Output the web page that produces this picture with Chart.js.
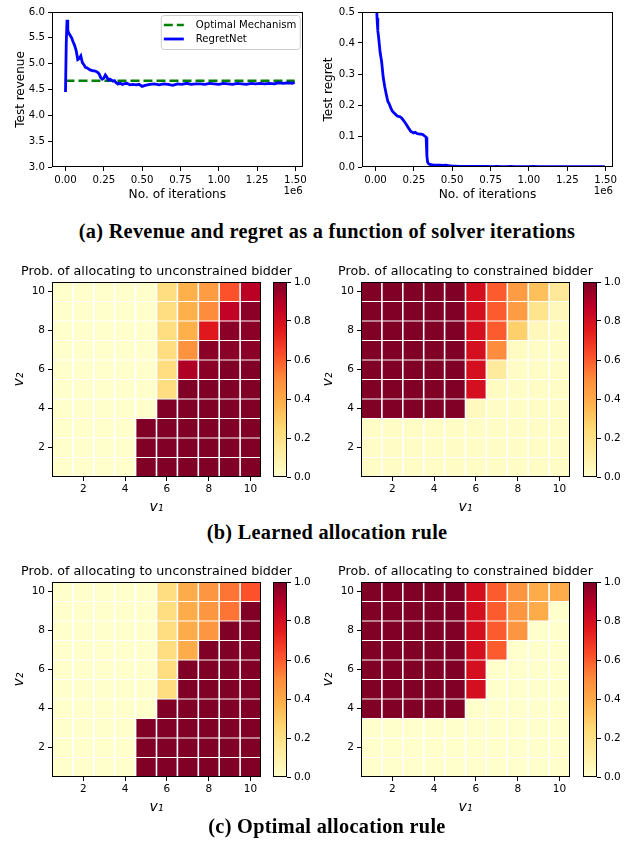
<!DOCTYPE html>
<html><head><meta charset="utf-8">
<script src="https://cdn.jsdelivr.net/npm/chart.js@4.4.1/dist/chart.umd.min.js"></script>
<style>
html,body{margin:0;padding:0;background:#fff;}
body{width:625px;height:848px;position:relative;overflow:hidden;}
canvas{position:absolute;}
.cap{position:absolute;left:0;width:654px;text-align:center;font-family:'Liberation Serif',serif;font-weight:bold;font-size:20.3px;letter-spacing:0.3px;line-height:24px;white-space:nowrap;color:#000;}
</style></head><body>
<canvas id="rev" width="310" height="205" style="left:0;top:0"></canvas>
<canvas id="reg" width="315" height="205" style="left:310px;top:0"></canvas>
<div class="cap" style="top:219px">(a) Revenue and regret as a function of solver iterations</div>
<canvas id="h1" width="310" height="261" style="left:0;top:258px"></canvas>
<canvas id="h2" width="315" height="261" style="left:310px;top:258px"></canvas>
<canvas id="c1" width="62" height="261" style="left:268px;top:258px"></canvas>
<canvas id="c2" width="62" height="261" style="left:578px;top:258px"></canvas>
<div class="cap" style="top:520px">(b) Learned allocation rule</div>
<canvas id="h3" width="310" height="261" style="left:0;top:558px"></canvas>
<canvas id="h4" width="315" height="261" style="left:310px;top:558px"></canvas>
<canvas id="c3" width="62" height="261" style="left:268px;top:558px"></canvas>
<canvas id="c4" width="62" height="261" style="left:578px;top:558px"></canvas>
<div class="cap" style="top:814px">(c) Optimal allocation rule</div>
<script>
// ---------------- data ----------------
const iterations = [0,5000,10000,15000,20000,30000,40000,50000,60000,70000,80000,90000,100000,110000,120000,130000,140000,150000,160000,170000,180000,190000,200000,210000,220000,230000,240000,250000,260000,270000,280000,290000,300000,310000,320000,330000,335000,340000,345000,350000,360000,370000,380000,400000,420000,440000,460000,480000,500000,520000,550000,580000,610000,640000,670000,700000,730000,760000,790000,820000,850000,880000,910000,940000,970000,1000000,1030000,1060000,1090000,1120000,1150000,1180000,1210000,1240000,1270000,1300000,1330000,1360000,1390000,1420000,1450000,1480000,1495000];
const revenueRegretNet = [4.45,5.40,5.85,5.65,5.60,5.55,5.50,5.42,5.35,5.25,5.08,5.10,5.15,5.02,4.98,4.93,4.92,4.90,4.88,4.87,4.86,4.86,4.85,4.83,4.80,4.73,4.70,4.72,4.78,4.74,4.68,4.70,4.68,4.66,4.67,4.63,4.62,4.61,4.62,4.61,4.62,4.60,4.61,4.62,4.59,4.60,4.59,4.60,4.56,4.58,4.60,4.61,4.59,4.61,4.60,4.58,4.61,4.60,4.62,4.60,4.61,4.61,4.60,4.62,4.61,4.60,4.62,4.61,4.60,4.62,4.61,4.60,4.62,4.61,4.62,4.61,4.62,4.61,4.63,4.62,4.63,4.62,4.64];
const regretRegretNet = [1.50,0.55,0.48,0.44,0.42,0.37,0.34,0.29,0.26,0.235,0.212,0.203,0.19,0.18,0.175,0.17,0.165,0.163,0.162,0.158,0.152,0.145,0.138,0.13,0.122,0.115,0.112,0.110,0.112,0.108,0.107,0.106,0.106,0.104,0.100,0.096,0.035,0.015,0.011,0.009,0.008,0.007,0.006,0.006,0.006,0.005,0.006,0.004,0.003,0.003,0.002,0.002,0.002,0.002,0.002,0.002,0.002,0.001,0.002,0.001,0.001,0.002,0.001,0.001,0.001,0.001,0.002,0.001,0.001,0.001,0.001,0.001,0.001,0.001,0.001,0.001,0.001,0.001,0.001,0.001,0.001,0.001,0.001];
const optimalIterations = [0, 1495000];
const optimalRevenue = [4.67, 4.67];
const iterationTicks = [0,250000,500000,750000,1000000,1250000,1500000];
const revenueTicks = [3.0,3.5,4.0,4.5,5.0,5.5,6.0];
const regretTicks = [0.0,0.1,0.2,0.3,0.4,0.5];

const v1Values = [1,2,3,4,5,6,7,8,9,10];
const v2Rows = [10,9,8,7,6,5,4,3,2,1];   // rows listed top to bottom
const valueTicks = [2,4,6,8,10];
const colorbarTicks = [0.0,0.2,0.4,0.6,0.8,1.0];

const learnedUnconstrained = [
 [0,0,0,0,0,0.22,0.38,0.45,0.62,0.88],
 [0,0,0,0,0,0.22,0.38,0.50,0.86,0.98],
 [0,0,0,0,0,0.22,0.38,0.76,0.98,0.98],
 [0,0,0,0,0,0.22,0.48,0.98,0.98,0.98],
 [0,0,0,0,0,0.22,0.90,0.98,1,1],
 [0,0,0,0,0,0.22,1,1,1,1],
 [0,0,0,0,0,1,1,1,1,1],
 [0,0,0,0,1,1,1,1,1,1],
 [0,0,0,0,1,1,1,1,1,1],
 [0,0,0,0,1,1,1,1,1,1]];
const learnedConstrained = [
 [1,1,1,1,1,0.80,0.60,0.45,0.33,0.15],
 [1,1,1,1,1,0.80,0.60,0.45,0.18,0.05],
 [1,1,1,1,1,0.80,0.60,0.28,0.05,0.03],
 [1,1,1,1,1,0.80,0.50,0.03,0.02,0.02],
 [1,1,1,1,1,0.80,0.14,0.02,0.02,0.02],
 [1,1,1,1,1,0.80,0.03,0.02,0.02,0.02],
 [1,1,1,1,1,0.04,0.02,0.02,0.02,0.02],
 [0.02,0.02,0.02,0.02,0.02,0.02,0.02,0.02,0.02,0.02],
 [0.02,0.02,0.02,0.02,0.02,0.02,0.02,0.02,0.02,0.02],
 [0.02,0.02,0.02,0.02,0.02,0.02,0.02,0.02,0.02,0.02]];
const optimalUnconstrained = [
 [0,0,0,0,0,0.22,0.40,0.47,0.55,0.62],
 [0,0,0,0,0,0.22,0.40,0.47,0.55,1],
 [0,0,0,0,0,0.22,0.40,0.47,1,1],
 [0,0,0,0,0,0.22,0.40,1,1,1],
 [0,0,0,0,0,0.22,1,1,1,1],
 [0,0,0,0,0,0.22,1,1,1,1],
 [0,0,0,0,0,1,1,1,1,1],
 [0,0,0,0,1,1,1,1,1,1],
 [0,0,0,0,1,1,1,1,1,1],
 [0,0,0,0,1,1,1,1,1,1]];
const optimalConstrained = [
 [1,1,1,1,1,0.80,0.60,0.47,0.40,0.40],
 [1,1,1,1,1,0.80,0.60,0.47,0.40,0],
 [1,1,1,1,1,0.80,0.60,0.47,0,0],
 [1,1,1,1,1,0.80,0.60,0,0,0],
 [1,1,1,1,1,0.80,0,0,0,0],
 [1,1,1,1,1,0.80,0,0,0,0],
 [1,1,1,1,1,0,0,0,0,0],
 [0,0,0,0,0,0,0,0,0,0],
 [0,0,0,0,0,0,0,0,0,0],
 [0,0,0,0,0,0,0,0,0,0]];

// ---------------- styling helpers ----------------
Chart.defaults.font.family = "'DejaVu Sans'";
Chart.defaults.color = '#000';
Chart.defaults.animation = false;

const YLORRD = ['#ffffcc','#ffeda0','#fed976','#feb24c','#fd8d3c','#fc4e2a','#e31a1c','#bd0026','#800026'];
function hex2rgb(h){return [1,3,5].map(i=>parseInt(h.substr(i,2),16));}
function cmap(v){
  v = Math.max(0, Math.min(1, v));
  const p = v*(YLORRD.length-1);
  const i = Math.min(Math.floor(p), YLORRD.length-2);
  const t = p - i;
  const a = hex2rgb(YLORRD[i]), b = hex2rgb(YLORRD[i+1]);
  return 'rgb(' + a.map((c,k)=>Math.round(c+(b[k]-c)*t)).join(',') + ')';
}

const framePlugin = {
  id: 'frame',
  afterDatasetsDraw(chart) {
    const {ctx, chartArea: a} = chart;
    const l = Math.round(a.left), t = Math.round(a.top), r = Math.round(a.right), b = Math.round(a.bottom);
    ctx.save(); ctx.strokeStyle = '#000'; ctx.lineWidth = 1;
    ctx.strokeRect(l + 0.5, t + 0.5, r - l - 1, b - t - 1);
    ctx.restore();
  }
};
const offsetTextPlugin = {
  id: 'offsetText',
  afterDraw(chart) {
    const {ctx, chartArea: a} = chart;
    ctx.save(); ctx.font = "10.2px 'DejaVu Sans'"; ctx.fillStyle = '#000';
    ctx.textAlign = 'right'; ctx.textBaseline = 'middle';
    ctx.fillText('1e6', a.right, a.bottom + 24);
    ctx.restore();
  }
};
const legendPlugin = {
  id: 'insideLegend',
  afterDraw(chart) {
    const {ctx, chartArea: a} = chart;
    const x0 = a.right - 142, y0 = a.top + 3, w = 139, h = 34;
    ctx.save();
    ctx.beginPath(); ctx.roundRect(x0 + 0.5, y0 + 0.5, w, h, 3);
    ctx.fillStyle = 'rgba(255,255,255,0.85)'; ctx.fill();
    ctx.strokeStyle = '#cccccc'; ctx.lineWidth = 1; ctx.stroke();
    const items = [chart.data.datasets[0], chart.data.datasets[1]];
    items.forEach((ds, i) => {
      const yy = y0 + 10 + i * 14;
      ctx.beginPath(); ctx.setLineDash(ds.borderDash || []);
      ctx.strokeStyle = ds.borderColor; ctx.lineWidth = ds.borderWidth;
      ctx.moveTo(x0 + 3, yy); ctx.lineTo(x0 + 23, yy); ctx.stroke();
      ctx.setLineDash([]);
      ctx.fillStyle = '#000'; ctx.font = "10.1px 'DejaVu Sans'";
      ctx.textAlign = 'left'; ctx.textBaseline = 'middle';
      ctx.fillText(ds.label, x0 + 35, yy);
    });
    ctx.restore();
  }
};
function titlePlugin(text) {
  return {
    id: 'heatTitle',
    afterDraw(chart) {
      const {ctx, chartArea: a} = chart;
      ctx.save(); ctx.font = "12.7px 'DejaVu Sans'"; ctx.fillStyle = '#000';
      ctx.textAlign = 'center'; ctx.textBaseline = 'middle';
      ctx.fillText(text, (a.left + a.right) / 2, a.top - 10);
      ctx.restore();
    }
  };
}
const tickGrid = {display: true, drawOnChartArea: false, drawTicks: true, tickLength: 4, color: '#000', lineWidth: 1, offset: false};

// ---------------- line charts ----------------
function lineChart(id, datasets, yMin, yMax, yTicks, yTitle, padLeft, padRight, extraPlugins) {
  new Chart(document.getElementById(id), {
    type: 'line',
    data: {datasets},
    options: {
      responsive: false, animation: false,
      layout: {padding: {left: padLeft, right: padRight, top: 12, bottom: 0}},
      plugins: {legend: {display: false}, tooltip: {enabled: false}},
      scales: {
        x: {
          type: 'linear', min: -88000, max: 1548000,
          afterBuildTicks: s => { s.ticks = iterationTicks.map(v => ({value: v})); },
          ticks: {callback: v => (v / 1e6).toFixed(2), font: {size: 10.2}, color: '#000', padding: 3, maxRotation: 0, autoSkip: false},
          grid: tickGrid, border: {display: false},
          title: {display: true, text: 'No. of iterations', font: {size: 12.2}, color: '#000', padding: {top: 0, bottom: 3}},
          afterFit: s => { s.height = 38; }
        },
        y: {
          min: yMin, max: yMax,
          afterBuildTicks: s => { s.ticks = yTicks.map(v => ({value: v})); },
          ticks: {callback: v => v.toFixed(1), font: {size: 10.2}, color: '#000', padding: 3},
          grid: tickGrid, border: {display: false},
          title: {display: true, text: yTitle, font: {size: 12}, color: '#000', padding: {top: 0, bottom: 0}},
          afterFit: s => { s.width = 52 - padLeft; }
        }
      }
    },
    plugins: [framePlugin, offsetTextPlugin].concat(extraPlugins)
  });
}

lineChart('rev', [
  {label: 'Optimal Mechanism', data: optimalIterations.map((x, i) => ({x, y: optimalRevenue[i]})),
   borderColor: '#008000', borderWidth: 2.6, borderDash: [9, 4], pointRadius: 0, fill: false, order: 2, clip: 0},
  {label: 'RegretNet', data: iterations.map((x, i) => ({x, y: revenueRegretNet[i]})),
   borderColor: '#0000ff', borderWidth: 2.8, pointRadius: 0, fill: false, tension: 0, order: 1, clip: 0}
], 3, 6, revenueTicks, 'Test revenue', 14, 7, [legendPlugin]);

lineChart('reg', [
  {label: 'RegretNet', data: iterations.map((x, i) => ({x, y: regretRegretNet[i]})),
   borderColor: '#0000ff', borderWidth: 2.8, pointRadius: 0, fill: false, tension: 0, clip: 0}
], 0, 0.5, regretTicks, 'Test regret', 11.5, 12, []);

// ---------------- heatmaps ----------------
function heatmap(id, matrix, title, padLeft, areaLeft, padRight) {
  const datasets = v2Rows.map((v2, r) => ({
    data: v1Values.map(v1 => ({x: v1, y: [v2 - 0.5, v2 + 0.5]})),
    backgroundColor: v1Values.map((v1, c) => cmap(matrix[r][c])),
    borderColor: '#ffffff',
    borderWidth: {left: 0.8, right: 0.8, top: 0.45, bottom: 0.45},
    borderSkipped: false, inflateAmount: 0,
    barPercentage: 1, categoryPercentage: 1, grouped: false
  }));
  new Chart(document.getElementById(id), {
    type: 'bar',
    data: {datasets},
    options: {
      responsive: false, animation: false,
      layout: {padding: {left: padLeft, right: padRight, top: 24, bottom: 0}},
      plugins: {legend: {display: false}, tooltip: {enabled: false}},
      scales: {
        x: {
          type: 'linear', min: 0.5, max: 10.5, offset: false,
          afterBuildTicks: s => { s.ticks = valueTicks.map(v => ({value: v})); },
          ticks: {callback: v => String(v), font: {size: 10.5}, color: '#000', padding: 2, maxRotation: 0, autoSkip: false},
          grid: tickGrid, border: {display: false},
          title: {display: true, text: 'v\u2081', font: {size: 14, style: 'italic'}, color: '#000', padding: {top: 0, bottom: 3.6}},
          afterFit: s => { s.height = 42; }
        },
        y: {
          type: 'linear', min: 0.5, max: 10.5, stacked: false,
          afterBuildTicks: s => { s.ticks = valueTicks.map(v => ({value: v})); },
          ticks: {callback: v => String(v), font: {size: 10.5}, color: '#000', padding: 3},
          grid: tickGrid, border: {display: false},
          title: {display: true, text: 'v\u2082', font: {size: 14, style: 'italic'}, color: '#000', padding: {top: 0, bottom: 0}},
          afterFit: s => { s.width = areaLeft - padLeft; }
        }
      }
    },
    plugins: [framePlugin, titlePlugin(title)]
  });
}
function colorbar(id) {
  new Chart(document.getElementById(id), {
    type: 'bar',
    data: {labels: ['scale'], datasets: [{
      data: [[0, 1]],
      backgroundColor: (ctx) => {
        const a = ctx.chart.chartArea;
        if (!a) return 'transparent';
        const g = ctx.chart.ctx.createLinearGradient(0, a.bottom, 0, a.top);
        YLORRD.forEach((c, i) => g.addColorStop(i / (YLORRD.length - 1), c));
        return g;
      },
      borderWidth: 0, inflateAmount: 0, barPercentage: 1, categoryPercentage: 1
    }]},
    options: {
      responsive: false, animation: false,
      layout: {padding: {left: 5, right: 0, top: 24, bottom: 42}},
      plugins: {legend: {display: false}, tooltip: {enabled: false}},
      scales: {
        x: {display: false},
        y: {
          position: 'right', min: 0, max: 1,
          afterBuildTicks: s => { s.ticks = colorbarTicks.map(v => ({value: v})); },
          ticks: {callback: v => v.toFixed(1), font: {size: 10.5}, color: '#000', padding: 3},
          grid: tickGrid, border: {display: false},
          afterFit: s => { s.width = 62 - 5 - 14; }
        }
      }
    },
    plugins: [framePlugin]
  });
}

heatmap('h1', learnedUnconstrained, 'Prob. of allocating to unconstrained bidder', 11, 52, 49);
heatmap('h2', learnedConstrained, 'Prob. of allocating to constrained bidder', 9.6, 51, 55);
heatmap('h3', optimalUnconstrained, 'Prob. of allocating to unconstrained bidder', 11, 52, 49);
heatmap('h4', optimalConstrained, 'Prob. of allocating to constrained bidder', 9.6, 51, 55);
colorbar('c1'); colorbar('c2'); colorbar('c3'); colorbar('c4');
</script>
</body></html>
